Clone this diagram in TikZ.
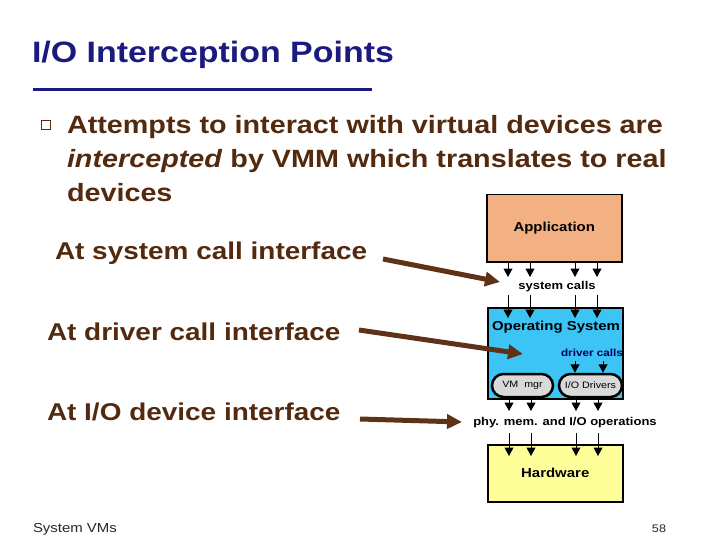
\documentclass[tikz,border=0pt]{standalone}
\usepackage{fontspec}
\setmainfont{Liberation Sans}[FakeStretch=1.15]
\usetikzlibrary{arrows.meta,shapes.misc}
\definecolor{navy}{HTML}{1A1A80}
\definecolor{bodybrown}{HTML}{542A0E}
\definecolor{arrbrown}{HTML}{5E3216}
\definecolor{appfill}{HTML}{F3B183}
\definecolor{osfill}{HTML}{3BC4F4}
\definecolor{hwfill}{HTML}{FFFF99}
\definecolor{pillfill}{HTML}{D9D9D9}
\definecolor{dcblue}{HTML}{000060}
\newcommand{\fsz}[1]{\fontsize{#1}{#1}\selectfont}
\begin{document}
\begin{tikzpicture}[x=1pt,y=-1pt,
  txt/.style={inner sep=0pt, outer sep=0pt},
  bodytext/.style={txt, anchor=base west, text=bodybrown, font=\bfseries\fsz{25}},
  labeltext/.style={txt, anchor=base west, text=bodybrown, font=\bfseries\fsz{24.3}},
  layerbox/.style={draw=black, line width=1.5pt, anchor=north west, inner sep=0pt, minimum width=135pt},
  pill/.style={rounded rectangle, draw=black, line width=2.5pt, fill=pillfill, inner sep=0pt, minimum height=23pt, font=\fsz{9.3}},
  callarrow/.style={draw=black, line width=1pt, -{Triangle[length=8.5pt,width=9pt]}},
  bigarrow/.style={draw=arrbrown, line width=5pt, -{Triangle[length=15pt,width=14pt]}}
]
\useasboundingbox (0,0) rectangle (720,540);

% title
\node[txt, anchor=base west, text=navy, font=\bfseries\fsz{29.5}] (title) at (32,63) {I/O Interception Points};
\coordinate (ul1) at (33,90);
\coordinate (ul2) at (372,90);
\draw[navy, line width=3pt] (ul1) -- (ul2);

% bullet
\node[draw=bodybrown, line width=1.2pt, minimum size=9pt, inner sep=0pt] (bul) at (46,125) {};
\node[bodytext] (l1) at (67,134) {Attempts to interact with virtual devices are};
\node[bodytext] (l2) at (67,168) {\textit{intercepted} by VMM which translates to real};
\node[bodytext] (l3) at (67,202) {devices};

% interface labels
\node[labeltext] (lab1) at (55,259) {At system call interface};
\node[labeltext] (lab2) at (47,340) {At driver call interface};
\node[labeltext] (lab3) at (47,420) {At I/O device interface};

% layers
\node[layerbox, fill=appfill, minimum height=67pt, font=\bfseries\fsz{13}] (app) at (486,194) {Application};
\node[layerbox, fill=osfill, minimum height=91pt] (os) at (487,307) {};
\node[txt, anchor=base, font=\bfseries\fsz{13}] (ostext) at (556,330) {Operating System};
\node[layerbox, fill=hwfill, minimum height=57pt, font=\bfseries\fsz{13}] (hw) at (487,444) {Hardware};

\node[txt, anchor=base, font=\bfseries\fsz{11.3}] (sc) at (557,289) {system calls};
\node[txt, anchor=base, text=dcblue, font=\bfseries\fsz{10.2}] (dc) at (592,356) {driver calls};
\node[txt, anchor=base, font=\bfseries\fsz{11.3}] (phy) at (565,425) {phy. mem. and I/O operations};

\node[pill, minimum width=61pt] (vm) at (522.5,385.5) {VM\ \ mgr};
\node[pill, minimum width=63pt] (io) at (590.5,385.5) {I/O Drivers};

% system call arrows
\foreach \i/\x in {1/508,2/530,3/575,4/597}{
  \coordinate (sa\i) at (\x,277);
  \coordinate (sb\i) at (\x,295);
  \coordinate (sc\i) at (\x,318);
  \draw[callarrow] (app.south -| sa\i) -- (sa\i);
  \draw[callarrow] (sb\i) -- (sc\i);
}
% driver call arrows
\foreach \i/\x in {1/575,2/603}{
  \coordinate (da\i) at (\x,361);
  \draw[callarrow] (da\i) -- (da\i |- io.north);
}
% physical operations arrows
\foreach \i/\x in {1/509,2/531,3/576,4/598}{
  \coordinate (pa\i) at (\x,411);
  \coordinate (pb\i) at (\x,433);
  \coordinate (pc\i) at (\x,456);
  \draw[callarrow] (os.south -| pa\i) -- (pa\i);
  \draw[callarrow] (pb\i) -- (pc\i);
}

% big brown arrows
\coordinate (b1s) at (383,259);
\coordinate (b1e) at (500,282);
\coordinate (b2s) at (359,330);
\coordinate (b2e) at (523,354);
\coordinate (b3s) at (360,419);
\coordinate (b3e) at (462,422);
\draw[bigarrow] (b1s) -- (b1e);
\draw[bigarrow] (b2s) -- (b2e);
\draw[bigarrow] (b3s) -- (b3e);

% footer
\node[txt, anchor=base west, text=black!85, font=\fsz{13}] (foot) at (33,532) {System VMs};
\node[txt, anchor=base, text=black!85, font=\fsz{11}] (page) at (659,532) {58};
\end{tikzpicture}
\end{document}
